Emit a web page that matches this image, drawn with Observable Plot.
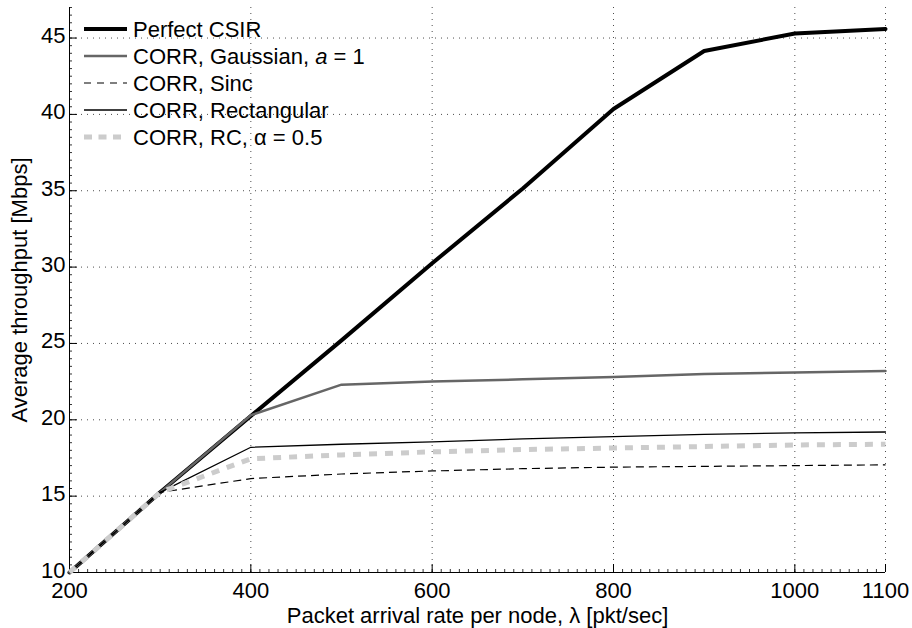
<!DOCTYPE html>
<html>
<head>
<meta charset="utf-8">
<script src="https://cdn.jsdelivr.net/npm/d3@7"></script>
<script src="https://cdn.jsdelivr.net/npm/@observablehq/plot@0.6"></script>
<style>
  html, body { margin: 0; padding: 0; background: #fff; }
  #chart { width: 912px; height: 628px; }
</style>
</head>
<body>
<div id="chart"></div>
<script>
// ---- data ----
const rates = [200, 300, 400, 500, 600, 700, 800, 900, 1000, 1100];
const perfectCSIR = [10, 15.25, 20.25, 25.2, 30.25, 35.15, 40.35, 44.15, 45.3, 45.6];
const corrGaussian = [10, 15.25, 20.3, 22.3, 22.5, 22.65, 22.8, 23.0, 23.1, 23.2];
const corrSinc = [10, 15.25, 16.15, 16.45, 16.65, 16.8, 16.9, 16.95, 17.0, 17.05];
const corrRect = [10, 15.25, 18.2, 18.4, 18.55, 18.75, 18.9, 19.05, 19.15, 19.2];
const corrRC = [10, 15.25, 17.45, 17.7, 17.9, 18.05, 18.15, 18.25, 18.35, 18.4];
const seriesNames = ["Perfect CSIR", "CORR, Gaussian, a = 1", "CORR, Sinc", "CORR, Rectangular", "CORR, RC, \u03b1 = 0.5"];
const xTicks = [200, 400, 600, 800, 1000, 1100];
const yTicks = [10, 15, 20, 25, 30, 35, 40, 45];
const xLabel = "Packet arrival rate per node, \u03bb [pkt/sec]";
const yLabel = "Average throughput [Mbps]";

// ---- styles ----
const seriesValues = [perfectCSIR, corrGaussian, corrSinc, corrRect, corrRC];
const styles = [
  {stroke: "#000", strokeWidth: 4, dash: null, cap: "round"},
  {stroke: "#666", strokeWidth: 2.5, dash: null, cap: "round"},
  {stroke: "#000", strokeWidth: 1.2, dash: "8,5", cap: "butt"},
  {stroke: "#000", strokeWidth: 1.3, dash: null, cap: "round"},
  {stroke: "#cccccc", strokeWidth: 5, dash: "8,8", cap: "butt"}
];

const W = 912, H = 628;
const mL = 69, mR = 27, mT = 7, mB = 56;
const fw = W - mL - mR, fh = H - mT - mB;
const font = "'Liberation Sans', Arial, Helvetica, sans-serif";
const fs = 22;

const table = seriesNames.map((name, i) => rates.map((x, j) => ({x, y: seriesValues[i][j], series: name})));

const minorX = d3.range(200, 1101, 10);
const minorY = d3.range(10, 47.01, 0.5);

const marks = [
  Plot.gridX(xTicks.filter(d => d !== 200), {stroke: "#000", strokeOpacity: 0.7, strokeDasharray: "1,5"}),
  Plot.gridY(yTicks.filter(d => d !== 10), {stroke: "#000", strokeOpacity: 0.7, strokeDasharray: "1,5"}),
  // minor ticks (inward)
  Plot.tickX(minorX, {x: d => d, insetTop: fh - 3, stroke: "#000", strokeWidth: 0.8}),
  Plot.tickY(minorY, {y: d => d, insetRight: fw - 3, stroke: "#000", strokeWidth: 0.8}),
  // major ticks (inward)
  Plot.tickX(xTicks, {x: d => d, insetTop: fh - 8, stroke: "#000"}),
  Plot.tickY(yTicks, {y: d => d, insetRight: fw - 8, stroke: "#000"}),
  Plot.axisX(xTicks, {tickSize: 0, tickPadding: 10, fontSize: fs, label: null, tickFormat: d => String(d)}),
  Plot.axisY(yTicks, {tickSize: 0, tickPadding: 4, fontSize: fs, label: null, tickFormat: d => String(d), dy: -2}),
  Plot.axisX({ticks: [], label: xLabel, labelAnchor: "center", labelArrow: "none", labelOffset: 50, fontSize: fs}),
  Plot.axisY({ticks: [], label: yLabel, labelAnchor: "center", labelArrow: "none", labelOffset: 58, fontSize: fs}),
  Plot.ruleX([200], {stroke: "#000"}),
  Plot.ruleY([10], {stroke: "#000"}),
  ...table.map((rows, i) => Plot.line(rows, {
    x: "x", y: "y",
    stroke: styles[i].stroke,
    strokeWidth: styles[i].strokeWidth,
    strokeDasharray: styles[i].dash,
    strokeLinecap: styles[i].cap,
    strokeLinejoin: "round"
  }))
];

const chart = Plot.plot({
  width: W, height: H,
  marginLeft: mL, marginRight: mR, marginTop: mT, marginBottom: mB,
  x: {domain: [200, 1100]},
  y: {domain: [10, 47]},
  style: {fontFamily: font, fontSize: fs + "px", background: "#fff", color: "#000", overflow: "visible"},
  marks
});

// ---- legend (top-left, no box) ----
const svg = d3.select(chart);
const lg = svg.append("g")
  .attr("font-family", font).attr("font-size", fs)
  .attr("text-anchor", "start");
seriesNames.forEach((name, i) => {
  const y = 29 + 27 * i;
  const s = styles[i];
  lg.append("line")
    .attr("x1", 84).attr("x2", 127).attr("y1", y).attr("y2", y)
    .attr("stroke", s.stroke).attr("stroke-width", s.strokeWidth)
    .attr("stroke-dasharray", s.dash ? (i === 2 ? "7,6" : "8,6.5") : null)
    .attr("stroke-linecap", "butt");
  const t = lg.append("text")
    .attr("x", 133).attr("y", y).attr("dy", "0.36em")
    .attr("text-anchor", "start").attr("fill", "#000");
  if (i === 1) {
    t.append("tspan").text("CORR, Gaussian, ");
    t.append("tspan").attr("font-style", "italic").text("a");
    t.append("tspan").text(" = 1");
  } else {
    t.text(name);
  }
});

document.getElementById("chart").appendChild(chart);
</script>
</body>
</html>
